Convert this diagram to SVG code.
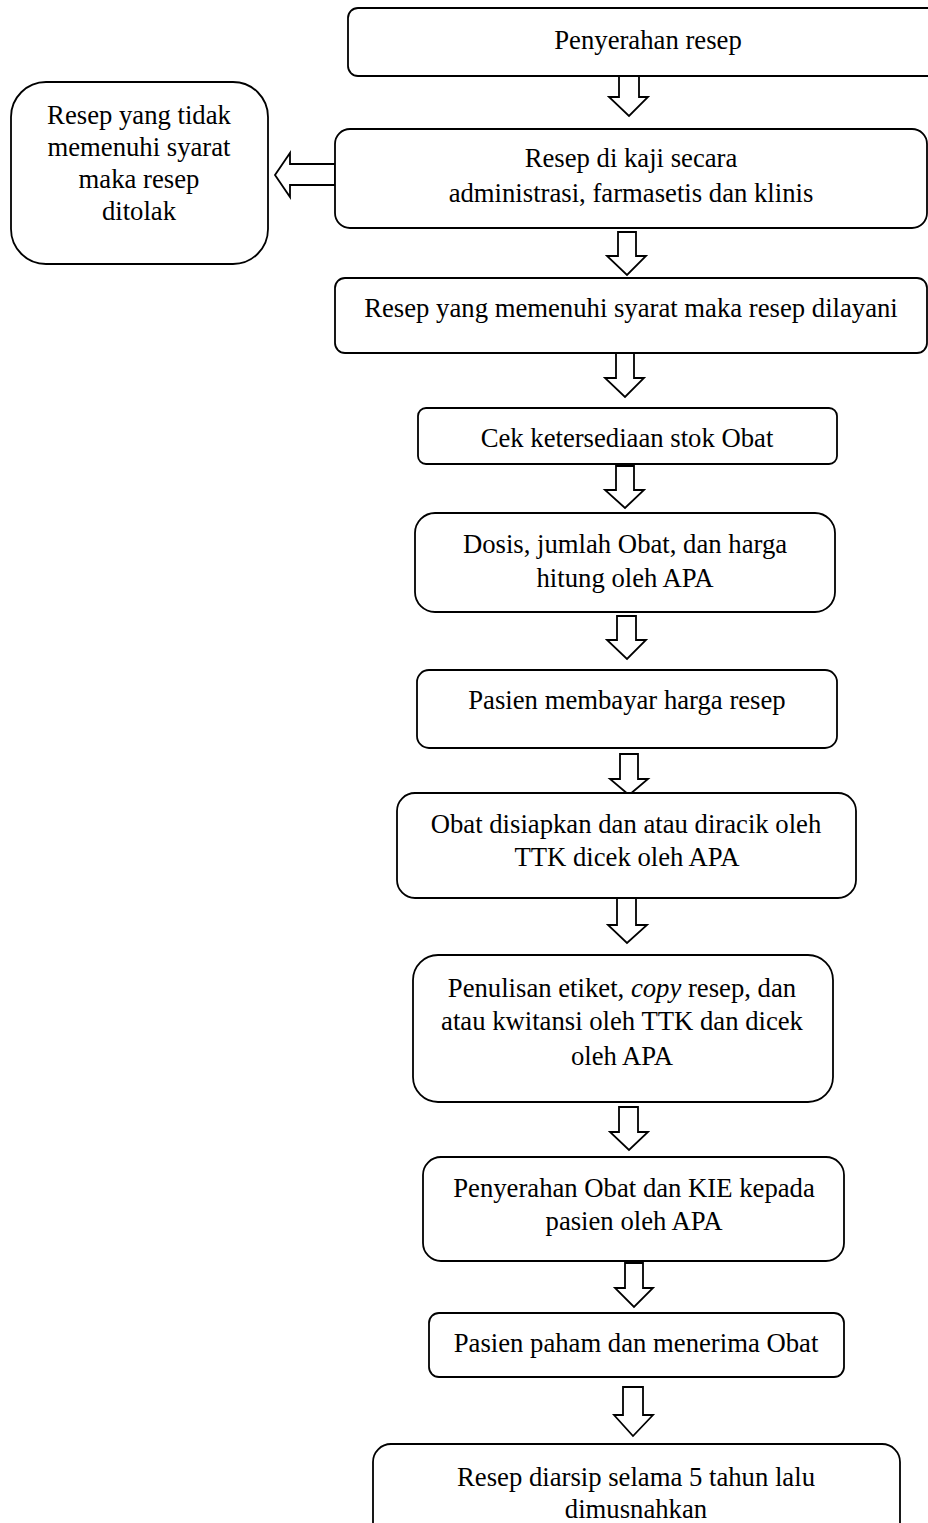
<svg xmlns="http://www.w3.org/2000/svg" width="928" height="1523" viewBox="0 0 928 1523">
<style>
.box{fill:#fff;stroke:#000;stroke-width:1.8}
.arr{fill:#fff;stroke:#000;stroke-width:1.8;stroke-linejoin:miter}
text{font-family:"Liberation Serif","Times New Roman",serif;font-size:26.7px;fill:#000;text-anchor:middle}
</style>
<rect width="928" height="1523" fill="#fff"/>
<g id="connectors">
<polygon class="arr" points="619,76 639,76 639,97 648,97 629,116 609,97 619,97"/>
<polygon class="arr" points="618,232 636,232 636,256 646,256 627,275 607,256 618,256"/>
<polygon class="arr" points="616,353 634,353 634,378 644,378 625,397 605,378 616,378"/>
<polygon class="arr" points="616,466 634,466 634,490 644,490 625,508 605,490 616,490"/>
<polygon class="arr" points="617,616 636,616 636,640 646,640 627,659 607,640 617,640"/>
<polygon class="arr" points="620,754 638,754 638,779 648,779 629,795 610,779 620,779"/>
<polygon class="arr" points="617,898 636,898 636,925 647,925 627,943 608,925 617,925"/>
<polygon class="arr" points="619,1107 638,1107 638,1132 648,1132 629,1150 610,1132 619,1132"/>
<polygon class="arr" points="625,1263 643,1263 643,1288 653,1288 634,1307 615,1288 625,1288"/>
<polygon class="arr" points="623,1387 643,1387 643,1415 653,1415 633,1436 614,1415 623,1415"/>
<polygon class="arr" points="335,164 290,164 290,153 275,175 290,197 290,185 335,185"/>
</g>
<g id="n1"><rect class="box" x="348" y="8" width="600" height="68" rx="10"/><text x="648" y="49">Penyerahan resep</text></g>
<g id="n2"><rect class="box" x="335" y="129" width="592" height="99" rx="15"/><text x="631" y="167">Resep di kaji secara</text><text x="631" y="202">administrasi, farmasetis dan klinis</text></g>
<g id="n3"><rect class="box" x="11" y="82" width="257" height="182" rx="35"/><text x="139" y="124">Resep yang tidak</text><text x="139" y="156">memenuhi syarat</text><text x="139" y="188">maka resep</text><text x="139" y="220">ditolak</text></g>
<g id="n4"><rect class="box" x="335" y="278" width="592" height="75" rx="10"/><text x="631" y="317">Resep yang memenuhi syarat maka resep dilayani</text></g>
<g id="n5"><rect class="box" x="418" y="408" width="419" height="56" rx="8"/><text x="627" y="447">Cek ketersediaan stok Obat</text></g>
<g id="n6"><rect class="box" x="415" y="513" width="420" height="99" rx="20"/><text x="625" y="553">Dosis, jumlah Obat, dan harga</text><text x="625" y="587">hitung oleh APA</text></g>
<g id="n7"><rect class="box" x="417" y="670" width="420" height="78" rx="12"/><text x="627" y="709">Pasien membayar harga resep</text></g>
<g id="n8"><rect class="box" x="397" y="793" width="459" height="105" rx="18"/><text x="626" y="833">Obat disiapkan dan atau diracik oleh</text><text x="627" y="866">TTK dicek oleh APA</text></g>
<g id="n9"><rect class="box" x="413" y="955" width="420" height="147" rx="25"/><text x="622" y="997">Penulisan etiket, <tspan font-style="italic">copy</tspan> resep, dan</text><text x="622" y="1030">atau kwitansi oleh TTK dan dicek</text><text x="622" y="1065">oleh APA</text></g>
<g id="n10"><rect class="box" x="423" y="1157" width="421" height="104" rx="18"/><text x="634" y="1197">Penyerahan Obat dan KIE kepada</text><text x="634" y="1230">pasien oleh APA</text></g>
<g id="n11"><rect class="box" x="429" y="1313" width="415" height="64" rx="10"/><text x="636" y="1352">Pasien paham dan menerima Obat</text></g>
<g id="n12"><rect class="box" x="373" y="1444" width="527" height="100" rx="18"/><text x="636" y="1486">Resep diarsip selama 5 tahun lalu</text><text x="636" y="1518">dimusnahkan</text></g>
</svg>
